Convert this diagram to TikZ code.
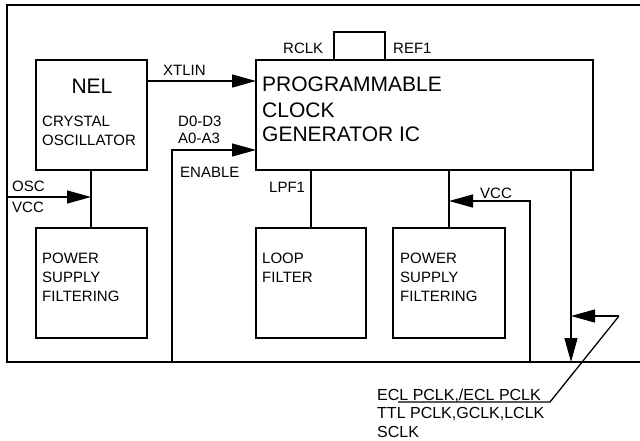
\documentclass[tikz,border=0pt]{standalone}
\usepackage{fontspec}
\setmainfont{Liberation Sans}
\usetikzlibrary{arrows.meta}
\tikzset{
  box/.style={draw, line width=1.3pt, inner sep=0pt, outer sep=0pt, anchor=north west},
  lbl/.style={anchor=base west, inner sep=0pt, font=\fontsize{15}{18}\selectfont},
  big/.style={anchor=base west, inner sep=0pt, font=\fontsize{21}{24}\selectfont},
  botlbl/.style={anchor=base west, inner sep=0pt, font=\fontsize{16}{19}\selectfont},
  wire/.style={line width=1.3pt},
  arr/.style={line width=1.3pt, -{Triangle[length=24pt,width=13pt]}},
}
\begin{document}
\begin{tikzpicture}[x=1pt,y=-1pt]
\useasboundingbox (0,0) rectangle (640,440);
% frame
\draw[wire] (640,5) -- (7,5) -- (7,362) -- (640,362);
% boxes
\node[box, minimum width=111pt, minimum height=110pt] (nel) at (36,60) {};
\node[box, minimum width=337pt, minimum height=110pt] (pcg) at (256,60) {};
\node[box, minimum width=51pt, minimum height=28pt] (ref) at (334,32) {};
\node[box, minimum width=111pt, minimum height=110pt] (psf1) at (36,228) {};
\node[box, minimum width=110pt, minimum height=110pt] (loop) at (256,228) {};
\node[box, minimum width=112pt, minimum height=110pt] (psf2) at (393,228) {};
% texts
\node[anchor=base, inner sep=0pt, font=\fontsize{21}{24}\selectfont] (tnel) at (92,93) {NEL};
\node[lbl] (tcry) at (42,126) {CRYSTAL};
\node[lbl] (tosc) at (42,145) {OSCILLATOR};
\node[big] (tp1) at (262,91) {PROGRAMMABLE};
\node[big] (tp2) at (262,117) {CLOCK};
\node[big] (tp3) at (262,141) {GENERATOR IC};
\node[lbl] (trclk) at (283,53) {RCLK};
\node[lbl] (tref) at (393,53) {REF1};
\node[lbl] (txtl) at (163,75) {XTLIN};
\node[lbl] (td) at (178,126) {D0-D3};
\node[lbl] (ta) at (178,143) {A0-A3};
\node[lbl] (ten) at (180,177) {ENABLE};
\node[lbl] (tlpf) at (269,192) {LPF1};
\node[lbl] (toscl) at (12,191) {OSC};
\node[lbl] (tvcc1) at (12,212) {VCC};
\node[lbl] (tw1) at (42,263) {POWER};
\node[lbl] (ts1) at (42,282) {SUPPLY};
\node[lbl] (tf1) at (42,301) {FILTERING};
\node[lbl] (tl1) at (262,263) {LOOP};
\node[lbl] (tl2) at (262,282) {FILTER};
\node[lbl] (tw2) at (400,263) {POWER};
\node[lbl] (ts2) at (400,282) {SUPPLY};
\node[lbl] (tf2) at (400,301) {FILTERING};
\node[lbl] (tvcc2) at (480,198) {VCC};
\node[botlbl] (tecl) at (377,400) {ECL PCLK,/ECL PCLK};
\node[botlbl] (tttl) at (377,418) {TTL PCLK,GCLK,LCLK};
\node[botlbl] (tsclk) at (377,437) {SCLK};
% coordinates
\coordinate (xs) at (147,81);
\coordinate (ds) at (172,362);
\coordinate (dc) at (172,150);
\coordinate (lp) at (311,170);
\coordinate (pp) at (449,170);
\coordinate (vs) at (530,362);
\coordinate (vc) at (530,201);
\coordinate (os) at (571,170);
\coordinate (oe) at (571,362);
\coordinate (cr) at (619,316);
\coordinate (cd) at (550,402);
\coordinate (ce) at (398,402);
\coordinate (ns) at (91,170);
\coordinate (oscs) at (7,197);
% connectors
\draw[arr] (xs) -- (xs -| pcg.west);
\draw[arr] (ds) -- (dc) -- (dc -| pcg.west);
\draw[wire] (lp) -- (lp |- loop.north);
\draw[wire] (pp) -- (pp |- psf2.north);
\draw[arr] (vs) -- (vc) -- (vc -| pp);
\draw[arr] (os) -- (oe);
\draw[arr] (cr) -- (cr -| os);
\draw[wire] (cr) -- (cd) -- (ce);
\draw[wire] (ns) -- (ns |- psf1.north);
\draw[arr] (oscs) -- (oscs -| ns);
\end{tikzpicture}
\end{document}
